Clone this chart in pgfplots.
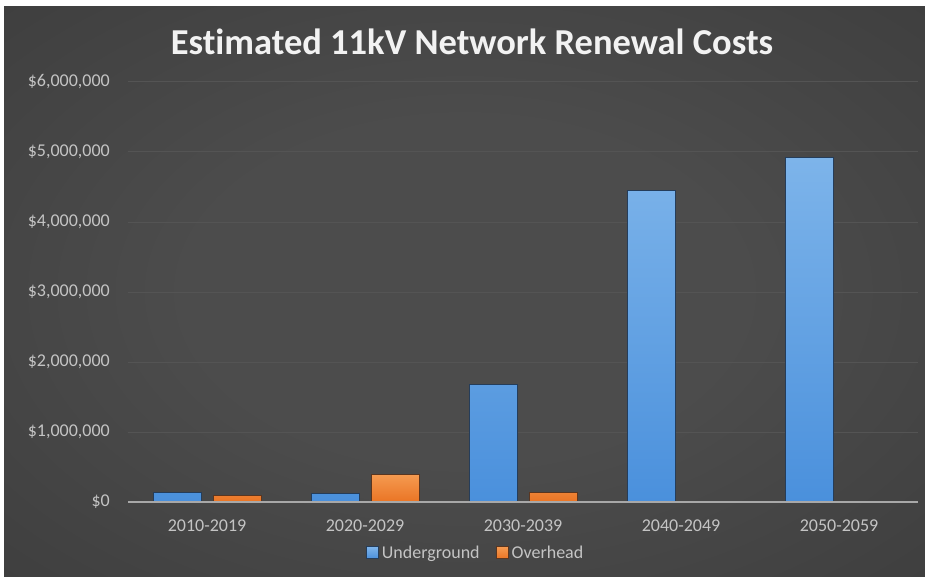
\documentclass[border=0pt]{standalone}
\usepackage{pgfplots}
\pgfplotsset{compat=1.18}
\usepackage{fontspec}
\setmainfont{Carlito}
\newfontfamily\titlefont{Carlito}[Ligatures=NoCommon]
\definecolor{bgin}{HTML}{4C4C4C}
\definecolor{bgout}{HTML}{282828}
\definecolor{ubluetop}{HTML}{7DB4EA}
\definecolor{ubluebot}{HTML}{4A90DC}
\definecolor{oortop}{HTML}{F59A50}
\definecolor{oorbot}{HTML}{EA7424}
\definecolor{gridc}{HTML}{545454}
\definecolor{labc}{HTML}{C4C4C4}
\definecolor{axc}{HTML}{A8A8A8}
\definecolor{ushadow}{HTML}{253D5A}
\definecolor{oshadow}{HTML}{5A3620}
\pgfdeclareradialshading{bgshade}{\pgfpoint{0bp}{0bp}}{color(0bp)=(bgin); color(15bp)=(bgin); color(72bp)=(bgout)}
\begin{document}
\begin{tikzpicture}
\useasboundingbox (0pt,0pt) rectangle (925pt,576pt);
\fill[white] (0pt,0pt) rectangle (925pt,576pt);
\shade[shading=bgshade] (4pt,0pt) rectangle (925pt,569pt);
\node[anchor=base, text=white!95!black, font=\titlefont\fontsize{36.5}{42}\selectfont\bfseries] at (472pt,521pt) {Estimated 11kV Network Renewal Costs};
\begin{axis}[
  at={(128pt,74pt)}, anchor=south west,
  scale only axis, width=790pt, height=420pt,
  xmin=-0.5, xmax=4.5, ymin=0, ymax=6000000,
  ybar=12pt, bar width=48pt,
  xtick={0,1,2,3,4},
  xticklabels={2010-2019,2020-2029,2030-2039,2040-2049,2050-2059},
  ytick={0,1000000,2000000,3000000,4000000,5000000,6000000},
  scaled y ticks=false,
  yticklabel={\$\pgfmathprintnumber{\tick}},
  yticklabel style={/pgf/number format/fixed, /pgf/number format/precision=0,
    /pgf/number format/1000 sep={,}, /pgf/number format/assume math mode=true,
    text=labc, anchor=east, inner sep=0pt, xshift=-18pt},
  xticklabel style={text=labc, anchor=north, inner sep=0pt, yshift=-18pt},
  tick label style={font=\fontsize{18}{21}\selectfont},
  major tick length=0pt,
  axis line style={draw=none},
  ymajorgrids, grid style={gridc, line width=1pt},
  legend style={at={(0.44,-0.121)}, anchor=center, draw=none, fill=none,
    text=labc, font=\fontsize{18}{21}\selectfont, legend columns=2,
    /tikz/every even column/.append style={column sep=14pt},
    /tikz/every odd column/.append style={column sep=1pt}},
  legend image code/.code={\fill[#1] (0pt,-6pt) rectangle (12pt,6pt);},
]
\addplot[draw=ushadow, line width=1pt, top color=ubluetop, bottom color=ubluebot]
  coordinates {(0,130000) (1,120000) (2,1680000) (3,4450000) (4,4915000)};
\addplot[draw=oshadow, line width=1pt, top color=oortop, bottom color=oorbot]
  coordinates {(0,90000) (1,390000) (2,140000)};
\legend{Underground, Overhead}
\draw[axc, line width=2pt] (axis cs:-0.5,0) -- (axis cs:4.5,0);
\end{axis}
\end{tikzpicture}
\end{document}
